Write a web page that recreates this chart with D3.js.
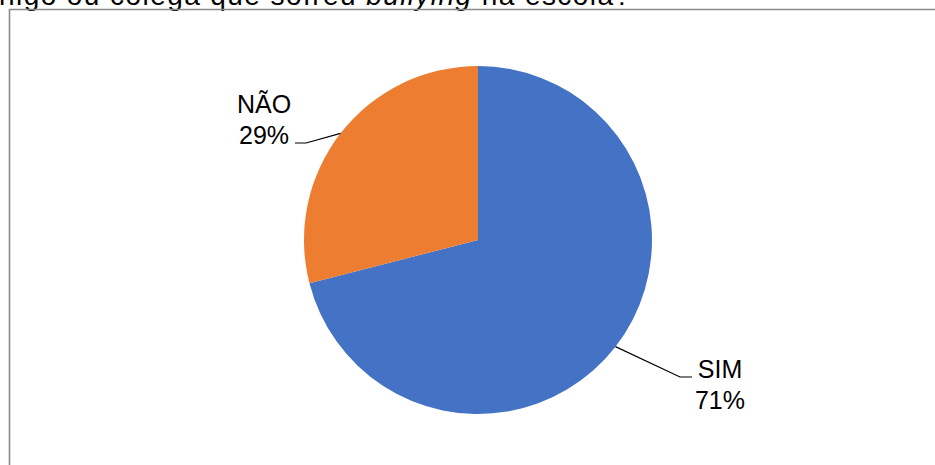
<!DOCTYPE html>
<html>
<head>
<meta charset="utf-8">
<script src="https://cdn.jsdelivr.net/npm/d3@7"></script>
<style>
  html, body { margin: 0; padding: 0; background: #fff; }
  svg { display: block; }
</style>
</head>
<body>
<svg id="chart" width="935" height="465"></svg>
<script>
// Answers to the survey question
const categories = ["SIM", "NÃO"];
const values = [71, 29];
const colors = ["#4472C4", "#ED7D31"];

const svg = d3.select("#chart");
const W = 935, H = 465;
const font = "'Liberation Sans', Arial, sans-serif";

// Question text (continues from the previous line)
const title = svg.append("text")
  .attr("x", -1).attr("y", 5)
  .attr("font-family", font).attr("font-size", 28)
  .attr("fill", "#000")
  .attr("textLength", 631).attr("lengthAdjust", "spacing");
title.append("tspan").text("nigo ou colega que sofreu ");
title.append("tspan").attr("font-style", "italic").text("bullying");
title.append("tspan").text(" na escola?");

// Chart frame
svg.append("path")
  .attr("d", `M9.5,${H} L9.5,9.5 L${W},9.5`)
  .attr("fill", "none").attr("stroke", "#8a8a8a").attr("stroke-width", 1.6);

const cx = 478, cy = 240, r = 174;
const data = categories.map((c, i) => ({ cat: c, value: values[i], color: colors[i] }));

const pie = d3.pie().sort(null).value(d => d.value).startAngle(0).endAngle(2 * Math.PI);
const arc = d3.arc().innerRadius(0).outerRadius(r);
const arcs = pie(data);

const g = svg.append("g").attr("transform", `translate(${cx},${cy})`);
g.selectAll("path.slice").data(arcs).join("path")
  .attr("class", "slice")
  .attr("d", arc)
  .attr("fill", d => d.data.color);

// Labels with leader lines
const total = d3.sum(values);
const labelPos = {
  "SIM": { elbow: [202, 137], end: [214, 137], tx: 242, ty: 138, side: 1 },
  "NÃO": { elbow: [-172, -97], end: [-183, -97], tx: -214, ty: -127, side: -1 }
};

arcs.forEach(d => {
  const p = labelPos[d.data.cat];
  const mid = (d.startAngle + d.endAngle) / 2;
  const ex = r * Math.sin(mid), ey = -r * Math.cos(mid);
  g.append("path")
    .attr("d", `M${ex},${ey} L${p.elbow[0]},${p.elbow[1]} L${p.end[0]},${p.end[1]}`)
    .attr("fill", "none").attr("stroke", "#000").attr("stroke-width", 1.2);
  const t = g.append("text")
    .attr("font-family", font).attr("font-size", 25).attr("fill", "#000")
    .attr("text-anchor", "middle");
  t.append("tspan").attr("x", p.tx).attr("y", p.ty).text(d.data.cat);
  t.append("tspan").attr("x", p.tx).attr("y", p.ty + 31)
    .text(Math.round(d.data.value / total * 100) + "%");
});
</script>
</body>
</html>
